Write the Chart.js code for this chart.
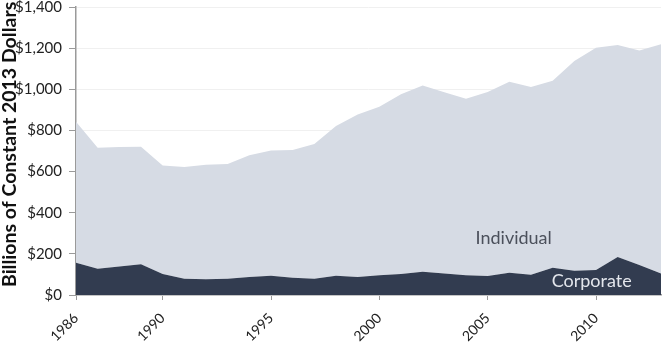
<!DOCTYPE html>
<html>
<head>
<meta charset="utf-8">
<script src="https://cdn.jsdelivr.net/npm/chart.js@4/dist/chart.umd.min.js"></script>
<style>
  html, body { margin: 0; padding: 0; background: #fff; }
  #wrap { width: 663px; height: 350px; }
</style>
</head>
<body>
<div id="wrap"><canvas id="chart"></canvas></div>
<script>
var years = [1986, 1987, 1988, 1989, 1990, 1991, 1992, 1993, 1994, 1995, 1996, 1997, 1998, 1999,
             2000, 2001, 2002, 2003, 2004, 2005, 2006, 2007, 2008, 2009, 2010, 2011, 2012, 2013];
var corporate = [157, 128, 138, 149, 102, 79, 76, 79, 87, 94, 84, 79, 94, 87,
                 96, 102, 113, 105, 96, 92, 108, 99, 133, 118, 122, 185, 146, 105];
var individual = [685, 588, 582, 572, 528, 543, 557, 558, 592, 608, 621, 655, 728, 791,
                  819, 874, 905, 880, 858, 895, 929, 912, 909, 1020, 1080, 1030, 1042, 1114];
var yearTicks = [1986, 1990, 1995, 2000, 2005, 2010];
var yTicks = [0, 200, 400, 600, 800, 1000, 1200, 1400];
var yTitle = 'Billions of Constant 2013 Dollars';

var fontFamily = "Lato, 'Open Sans', sans-serif";

// series name labels drawn inside the areas, plus the y title
var areaLabels = {
    id: 'areaLabels',
    afterDatasetsDraw: function (chart) {
        var ctx = chart.ctx;
        var x = chart.scales.x, y = chart.scales.y;
        ctx.save();
        ctx.font = '18px ' + fontFamily;
        ctx.textAlign = 'center';
        ctx.textBaseline = 'middle';
        ctx.fillStyle = '#4b505b';
        ctx.fillText('Individual', x.getPixelForValue(2006.2), y.getPixelForValue(277));
        ctx.fillStyle = '#e3e6ec';
        ctx.fillText('Corporate', x.getPixelForValue(2009.8), y.getPixelForValue(65));
        ctx.restore();
    },
    afterDraw: function (chart) {
        var ctx = chart.ctx;
        var y = chart.scales.y;
        ctx.save();
        ctx.translate(9.5, y.bottom - 8);
        ctx.rotate(-Math.PI / 2);
        ctx.font = 'bold 19.5px ' + fontFamily;
        ctx.fillStyle = '#111';
        ctx.textAlign = 'left';
        ctx.textBaseline = 'middle';
        ctx.fillText(yTitle, 0, 0);
        ctx.restore();
    }
};

new Chart(document.getElementById('chart'), {
    type: 'line',
    data: {
        datasets: [{
            label: 'Corporate',
            data: years.map(function (yr, i) { return { x: yr, y: corporate[i] }; }),
            borderWidth: 0,
            pointRadius: 0,
            backgroundColor: '#323c50',
            fill: 'origin',
            tension: 0
        }, {
            label: 'Individual',
            data: years.map(function (yr, i) { return { x: yr, y: individual[i] }; }),
            borderWidth: 0,
            pointRadius: 0,
            backgroundColor: '#d6dbe4',
            fill: '-1',
            tension: 0
        }]
    },
    options: {
        responsive: true,
        maintainAspectRatio: false,
        animation: false,
        layout: { padding: { top: 0, right: 2, left: 0, bottom: 0 } },
        plugins: {
            legend: { display: false },
            tooltip: { enabled: false }
        },
        scales: {
            x: {
                type: 'linear',
                min: 1986,
                max: 2013,
                afterBuildTicks: function (s) {
                    s.ticks = yearTicks.map(function (v) { return { value: v }; });
                },
                afterFit: function (s) { s.height = 55; },
                grid: {
                    display: true,
                    drawOnChartArea: false,
                    drawTicks: true,
                    tickLength: 5,
                    color: '#9a9a9a'
                },
                border: { display: true, color: '#9a9a9a', width: 1.5 },
                ticks: {
                    minRotation: 45,
                    maxRotation: 45,
                    padding: 10,
                    color: '#222',
                    font: { family: fontFamily, size: 14 },
                    callback: function (v) { return String(v); }
                }
            },
            y: {
                stacked: true,
                min: 0,
                max: 1400,
                afterBuildTicks: function (s) {
                    s.ticks = yTicks.map(function (v) { return { value: v }; });
                },
                afterFit: function (s) { s.width = 76; },
                grid: {
                    color: '#f0f0f0',
                    tickColor: '#9a9a9a',
                    tickLength: 7,
                    lineWidth: 1
                },
                border: { display: true, color: '#9a9a9a', width: 1.5 },
                ticks: {
                    padding: 7,
                    color: '#222',
                    font: { family: fontFamily, size: 15, lineHeight: 0 },
                    callback: function (v) { return '$' + v.toLocaleString('en-US'); }
                }
            }
        }
    },
    plugins: [areaLabels]
});
</script>
</body>
</html>
